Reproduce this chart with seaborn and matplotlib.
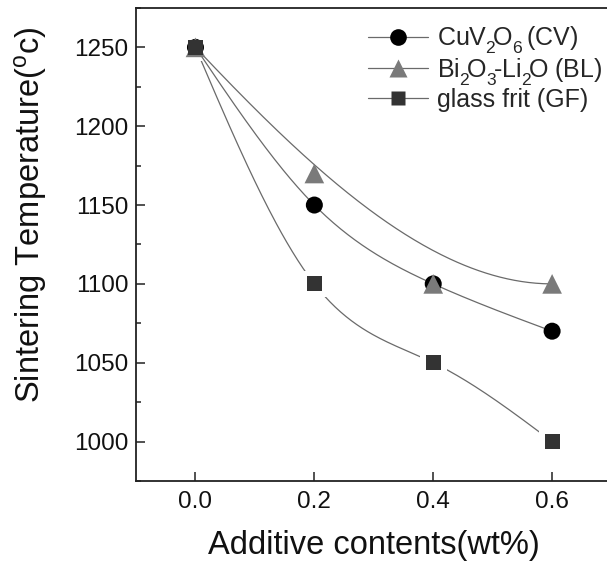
import numpy as np
import pandas as pd
import seaborn as sns
import matplotlib.pyplot as plt
from matplotlib.lines import Line2D
from matplotlib.ticker import MultipleLocator

sns.set_style("ticks")
plt.rcParams['font.family'] = ['Liberation Sans', 'DejaVu Sans']
plt.rcParams['mathtext.fontset'] = 'custom'
plt.rcParams['mathtext.rm'] = 'Liberation Sans'
plt.rcParams['mathtext.it'] = 'Liberation Sans:italic'

# subscripts in the original sit lower than the mathtext default
try:
    import matplotlib._mathtext as _mt
    _mt.FontConstantsBase.sub1 = 0.6
except Exception:
    pass

# data
wt = [0.0, 0.2, 0.4, 0.6]
cv_temp = [1250, 1150, 1100, 1070]
bl_temp = [1250, 1170, 1100, 1100]
gf_temp = [1250, 1100, 1050, 1000]

# \! pulls the text back a little after each subscript
labels = [r'CuV$_2\!$O$_6\!$ (CV)',
          r'Bi$_2\!$O$_3\!$‐Li$_2\!$O (BL)',
          'glass frit (GF)']

line_col = '#6a6a6a'
cv_col = '#000000'
bl_col = '#7a7a7a'
gf_col = '#333333'


def natural_spline(x, y, n=200):
    # natural cubic spline through the points
    x = np.asarray(x, float)
    y = np.asarray(y, float)
    k = len(x)
    h = np.diff(x)
    A = np.zeros((k, k))
    b = np.zeros(k)
    A[0, 0] = A[-1, -1] = 1
    for i in range(1, k - 1):
        A[i, i - 1] = h[i - 1]
        A[i, i] = 2 * (h[i - 1] + h[i])
        A[i, i + 1] = h[i]
        b[i] = 6 * ((y[i + 1] - y[i]) / h[i] - (y[i] - y[i - 1]) / h[i - 1])
    M = np.linalg.solve(A, b)
    xs = np.linspace(x[0], x[-1], n)
    ys = np.empty_like(xs)
    for j, xv in enumerate(xs):
        i = min(np.searchsorted(x, xv, side='right') - 1, k - 2)
        t0 = x[i + 1] - xv
        t1 = xv - x[i]
        ys[j] = (M[i] * t0 ** 3 + M[i + 1] * t1 ** 3) / (6 * h[i]) \
            + (y[i] / h[i] - M[i] * h[i] / 6) * t0 \
            + (y[i + 1] / h[i] - M[i + 1] * h[i] / 6) * t1
    return xs, ys


def bspline(x, y, n=200):
    # bezier / b-spline using the points as control points
    from math import comb
    x = np.asarray(x, float)
    y = np.asarray(y, float)
    d = len(x) - 1
    t = np.linspace(0, 1, n)
    B = np.array([comb(d, i) * t ** i * (1 - t) ** (d - i) for i in range(d + 1)])
    return B.T @ x, B.T @ y


fig = plt.figure(figsize=(6.07, 5.64), dpi=100)
ax = fig.add_axes([0.2241, 0.1472, 0.7834, 0.8387])

lw = 0.9

# GF line with gaps around the squares
xs, ys = natural_spline(wt, gf_temp)
sns.lineplot(x=xs, y=ys, ax=ax, color=line_col, lw=lw, sort=False, estimator=None, zorder=2)
sns.scatterplot(x=wt, y=gf_temp, ax=ax, marker='s', s=370, color='white',
                edgecolor='none', linewidth=0, zorder=2.5)

xs, ys = natural_spline(wt, cv_temp)
sns.lineplot(x=xs, y=ys, ax=ax, color=line_col, lw=lw, sort=False, estimator=None, zorder=3)
xs, ys = bspline(wt, bl_temp)
sns.lineplot(x=xs, y=ys, ax=ax, color=line_col, lw=lw, sort=False, estimator=None, zorder=3)

sns.scatterplot(x=wt, y=cv_temp, ax=ax, marker='o', s=150, color=cv_col,
                edgecolor='none', linewidth=0, zorder=4)
sns.scatterplot(x=wt, y=bl_temp, ax=ax, marker='^', s=200, color=bl_col,
                edgecolor='none', linewidth=0, zorder=5)
sns.scatterplot(x=wt, y=gf_temp, ax=ax, marker='s', s=117, color=gf_col,
                edgecolor='none', linewidth=0, zorder=6)

ax.set_xlim(-0.1, 0.7)
ax.set_ylim(975, 1275)
ax.set_xticks(wt)
ax.set_xticklabels([f'{v:.1f}' for v in wt])
ax.yaxis.set_major_locator(MultipleLocator(50))
ax.yaxis.set_minor_locator(MultipleLocator(25))

ax.tick_params(axis='both', which='both', direction='in', width=1.1, colors='#222222')
ax.tick_params(axis='x', which='major', length=6.5, pad=7, labelsize=17.5, labelcolor='#111111')
ax.tick_params(axis='y', which='major', length=6.5, pad=5.5, labelsize=17.5, labelcolor='#111111')
ax.tick_params(axis='y', which='minor', length=3.5)

for sp in ax.spines.values():
    sp.set_linewidth(1.3)
    sp.set_color('#222222')

ax.set_xlabel('Additive contents(wt%)', fontsize=23.5, color='#111111')
ax.set_ylabel(r'Sintering Temperature($^{\mathrm{o}}$c)', fontsize=23.5, color='#111111')
ax.xaxis.set_label_coords(0.5, -0.103)
ax.yaxis.set_label_coords(-0.183, 0.562)

handles = [
    Line2D([], [], color=line_col, lw=lw, marker='o', ms=12, mfc=cv_col, mec='none'),
    Line2D([], [], color=line_col, lw=lw, marker='^', ms=13.5, mfc=bl_col, mec='none'),
    Line2D([], [], color=line_col, lw=lw, marker='s', ms=10, mfc=gf_col, mec='none'),
]
fig.legend(handles, labels, loc='upper left', bbox_to_anchor=(0.606, 0.956),
           frameon=False, fontsize=18, handlelength=2.4, handletextpad=0.36,
           labelspacing=0.0, borderpad=0, borderaxespad=0)

fig.savefig('out.png', dpi=100)
